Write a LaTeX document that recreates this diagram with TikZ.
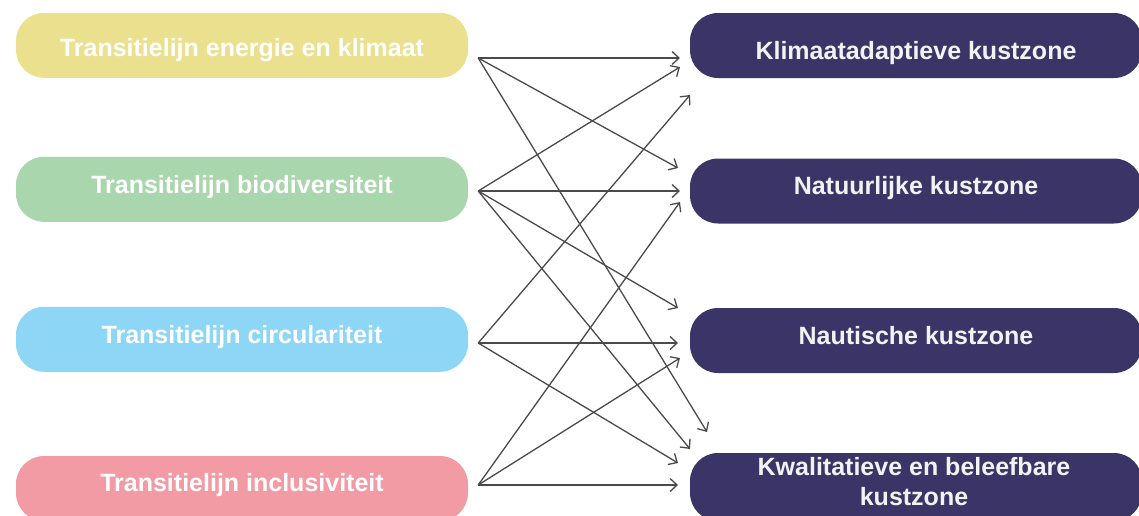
\documentclass[tikz,border=0pt]{standalone}
\usepackage{fontspec}
\setmainfont{Liberation Sans}
\usetikzlibrary{arrows.meta,calc}
\definecolor{cYel}{HTML}{EBE08D}
\definecolor{cGrn}{HTML}{A9D6AC}
\definecolor{cCya}{HTML}{8DD6F6}
\definecolor{cPnk}{HTML}{F29BA4}
\definecolor{cNav}{HTML}{3A3467}
\definecolor{cArr}{HTML}{4A4A4A}
\tikzset{
  lbox/.style={rounded corners=28pt, minimum width=452pt, minimum height=65pt, inner sep=0pt,
    text=white, font=\fontsize{25}{29.5}\selectfont\bfseries, align=center, text depth=0pt, text height=17.9pt},
  rbox/.style={lbox, fill=cNav, text=white!95!black},
  tshift/.style={text height={17.9pt+2*(#1)}},
  conn/.style={draw=cArr, line width=1.3pt, -{Straight Barb[length=7pt,width=13pt,line width=1.3pt]}}
}
\begin{document}
\begin{tikzpicture}[x=1pt,y=-1pt]
\useasboundingbox (0,0) rectangle (1139,515);
\begin{scope}
\clip (0,0) rectangle (1139,515);
\node[lbox, fill=cYel, tshift=2.5pt] (L1) at (242,45.3) {Transitielijn energie en klimaat};
\node[lbox, fill=cGrn, tshift=-4.4pt] (L2) at (242,189.3) {Transitielijn biodiversiteit};
\node[lbox, fill=cCya, tshift=-5pt] (L3) at (242,339.3) {Transitielijn circulariteit};
\node[lbox, fill=cPnk, tshift=-6pt] (L4) at (242,488.5) {Transitielijn inclusiviteit};
\node[rbox, tshift=5pt] (R1) at (916,45.5) {Klimaatadaptieve kustzone};
\node[rbox, tshift=-5pt] (R2) at (916,191) {Natuurlijke kustzone};
\node[rbox, tshift=-4.7pt] (R3) at (916,340.5) {Nautische kustzone};
\node[rbox, minimum height=68pt] (R4) at (916,487) {};
\node[font=\fontsize{25}{29.5}\selectfont\bfseries, text=white!95!black, align=center, inner sep=0pt] (R4t) at (914,481.5) {Kwalitatieve en beleefbare\\kustzone};
\end{scope}
% source ports
\coordinate (sE) at ($(L1.east)+(10,12.7)$);
\coordinate (sB) at ($(L2.east)+(10,1.7)$);
\coordinate (sC) at ($(L3.east)+(10,3.7)$);
\coordinate (sI) at ($(L4.east)+(10,-3.5)$);
% arrow ends
\coordinate (eEK) at (680,58);
\coordinate (eEN) at (678,168);
\coordinate (eEQ) at (707,432);
\coordinate (eBK) at (680,67);
\coordinate (eBN) at (680,191);
\coordinate (eBT) at (678,308);
\coordinate (eBQ) at (690,449);
\coordinate (eCK) at (690,95);
\coordinate (eCT) at (678,343);
\coordinate (eCQ) at (678,463);
\coordinate (eIN) at (680,202);
\coordinate (eIT) at (680,358);
\coordinate (eIQ) at (678,485);
\draw[conn] (sE) -- (eEK);
\draw[conn] (sE) -- (eEN);
\draw[conn] (sE) -- (eEQ);
\draw[conn] (sB) -- (eBK);
\draw[conn] (sB) -- (eBN);
\draw[conn] (sB) -- (eBT);
\draw[conn] (sB) -- (eBQ);
\draw[conn] (sC) -- (eCK);
\draw[conn] (sC) -- (eCT);
\draw[conn] (sC) -- (eCQ);
\draw[conn] (sI) -- (eIN);
\draw[conn] (sI) -- (eIT);
\draw[conn] (sI) -- (eIQ);
\end{tikzpicture}
\end{document}
